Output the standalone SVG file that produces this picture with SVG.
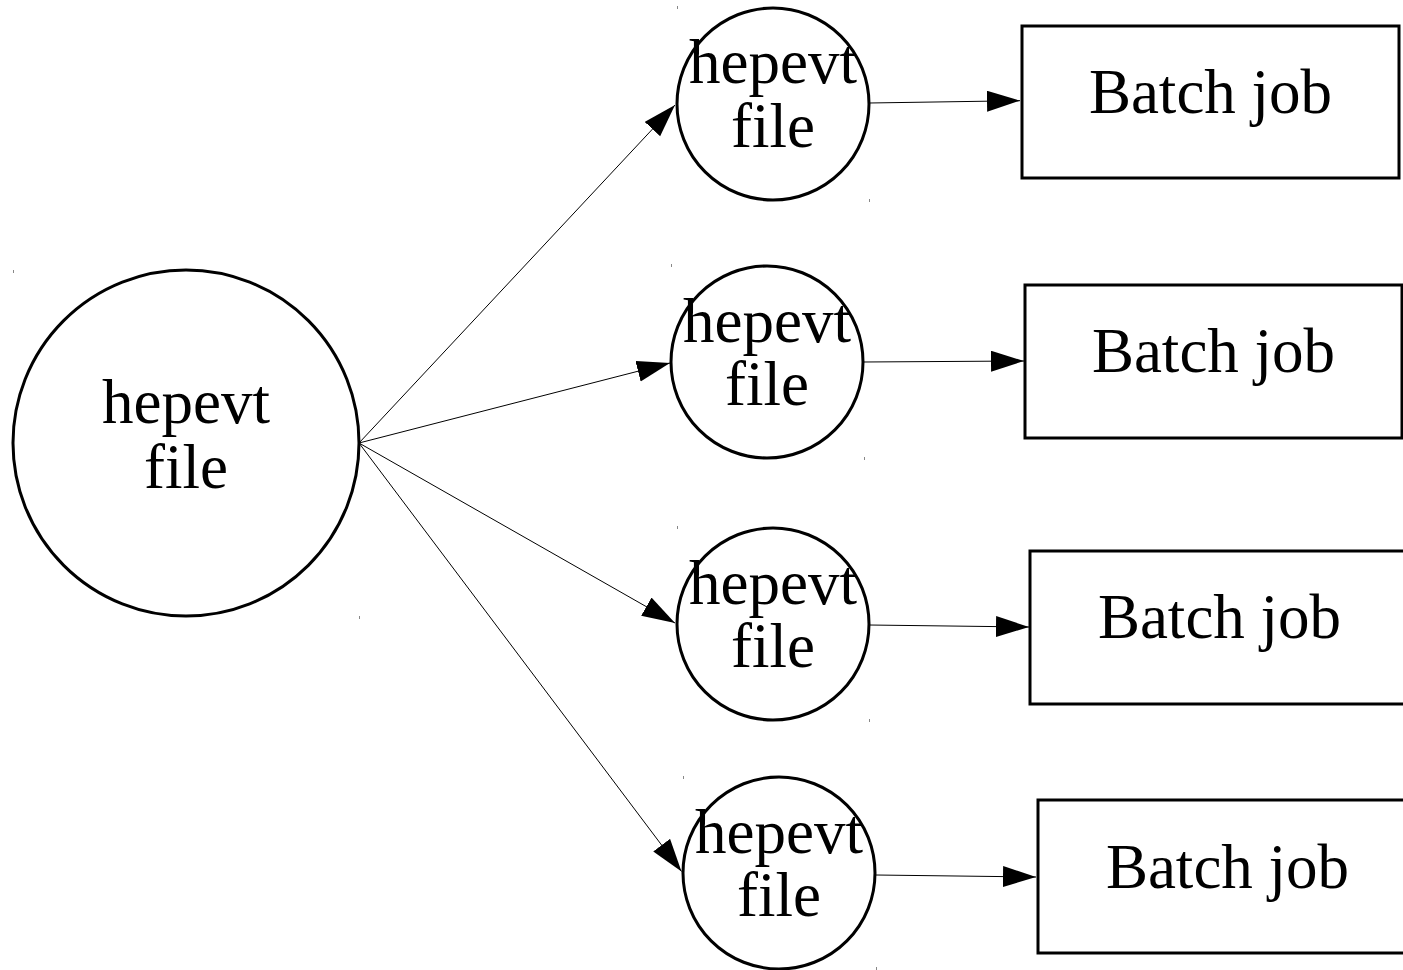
<svg xmlns="http://www.w3.org/2000/svg" width="1403" height="970" viewBox="0 0 1403 970">
<style>
.node{fill:#fff;stroke:#000;stroke-width:3}
.lbl{font-family:"Liberation Serif","Times New Roman",serif;font-size:63px;fill:#000;text-anchor:middle}
.edge{stroke:#000;stroke-width:1;fill:none;marker-end:url(#ah)}
.tick{stroke:#888;stroke-width:1}
</style>
<defs>
<marker id="ah" markerUnits="userSpaceOnUse" markerWidth="34" markerHeight="22" refX="33" refY="10.5" orient="auto">
<path d="M0,0 L33,10.5 L0,21 Z" fill="#000"/>
</marker>
</defs>
<rect width="1403" height="970" fill="#fff"/>
<g id="connectors">
<line class="edge" x1="359" y1="443" x2="675" y2="105"/>
<line class="edge" x1="359" y1="443" x2="670" y2="363"/>
<line class="edge" x1="359" y1="443" x2="675" y2="623"/>
<line class="edge" x1="359" y1="443" x2="681.5" y2="871.5"/>
<line class="edge" x1="869" y1="103" x2="1020" y2="100.7"/>
<line class="edge" x1="863" y1="362" x2="1024" y2="361"/>
<line class="edge" x1="869" y1="625" x2="1029" y2="627"/>
<line class="edge" x1="876" y1="875" x2="1036" y2="877"/>
</g>
<g id="src">
<circle class="node" cx="186" cy="443" r="173"/>
<text class="lbl" x="186" y="423">hepevt</text>
<text class="lbl" x="186" y="488">file</text>
</g>
<g id="f1">
<circle class="node" cx="773" cy="104" r="96"/>
<text class="lbl" x="773" y="83">hepevt</text>
<text class="lbl" x="773" y="147">file</text>
</g>
<g id="f2">
<circle class="node" cx="767" cy="362" r="96"/>
<text class="lbl" x="767" y="342">hepevt</text>
<text class="lbl" x="767" y="405">file</text>
</g>
<g id="f3">
<circle class="node" cx="773" cy="624" r="96"/>
<text class="lbl" x="773" y="604">hepevt</text>
<text class="lbl" x="773" y="667">file</text>
</g>
<g id="f4">
<circle class="node" cx="779" cy="873" r="96"/>
<text class="lbl" x="779" y="853">hepevt</text>
<text class="lbl" x="779" y="916">file</text>
</g>
<g id="b1">
<rect class="node" x="1022" y="26" width="377" height="152"/>
<text class="lbl" x="1210.5" y="113">Batch job</text>
</g>
<g id="b2">
<rect class="node" x="1025" y="285" width="377" height="153"/>
<text class="lbl" x="1213.5" y="372">Batch job</text>
</g>
<g id="b3">
<rect class="node" x="1030" y="551" width="379" height="153"/>
<text class="lbl" x="1219.5" y="638">Batch job</text>
</g>
<g id="b4">
<rect class="node" x="1038" y="800" width="379" height="153"/>
<text class="lbl" x="1227.5" y="888">Batch job</text>
</g>
<g id="ticks">
<line class="tick" x1="13.5" y1="270" x2="13.5" y2="273"/>
<line class="tick" x1="359.5" y1="616" x2="359.5" y2="619"/>
<line class="tick" x1="677.5" y1="6" x2="677.5" y2="9"/>
<line class="tick" x1="869.5" y1="199" x2="869.5" y2="202"/>
<line class="tick" x1="671.5" y1="264" x2="671.5" y2="267"/>
<line class="tick" x1="864.5" y1="457" x2="864.5" y2="460"/>
<line class="tick" x1="677.5" y1="526" x2="677.5" y2="529"/>
<line class="tick" x1="869.5" y1="719" x2="869.5" y2="722"/>
<line class="tick" x1="683.5" y1="776" x2="683.5" y2="779"/>
<line class="tick" x1="876.5" y1="967" x2="876.5" y2="970"/>
</g>
</svg>
